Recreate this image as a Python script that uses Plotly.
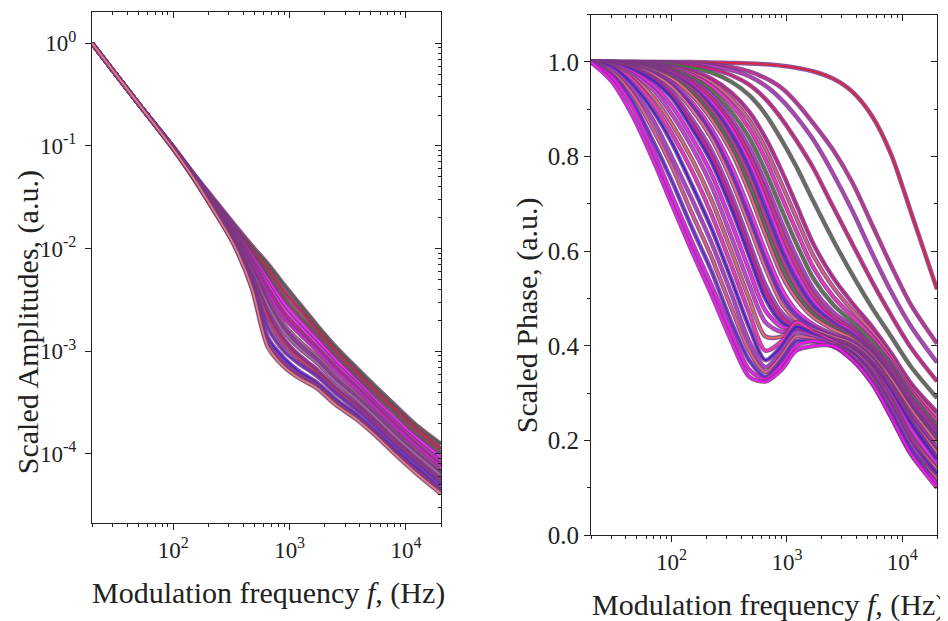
import plotly.graph_objects as go
import math

# ---- data ----
amp_freq = [20, 50, 100, 150, 220, 330, 470, 650, 900, 1200, 1700, 2500, 3700, 5500, 8000, 12000, 20000]

amp_0 = [1.0, 0.26, 0.093, 0.048, 0.024, 0.011, 0.0042, 0.0011, 7.0e-4, 5.5e-4, 4.4e-4, 3.0e-4, 2.2e-4, 1.5e-4, 1.0e-4, 6.6e-5, 4.1e-5]
amp_0b = [1.0, 0.26, 0.0935, 0.048, 0.0243, 0.0113, 0.0044, 0.0012, 7.6e-4, 5.9e-4, 4.7e-4, 3.2e-4, 2.3e-4, 1.58e-4, 1.05e-4, 7.0e-5, 4.4e-5]
amp_1 = [1.0, 0.26, 0.094, 0.0485, 0.0246, 0.0117, 0.0047, 0.00135, 8.5e-4, 6.4e-4, 5.0e-4, 3.4e-4, 2.45e-4, 1.66e-4, 1.11e-4, 7.5e-5, 4.6e-5]
amp_2 = [1.0, 0.26, 0.094, 0.049, 0.0252, 0.0122, 0.0052, 0.0017, 1.0e-3, 7.6e-4, 5.8e-4, 3.9e-4, 2.75e-4, 1.85e-4, 1.23e-4, 8.3e-5, 5.1e-5]
amp_2b = [1.0, 0.26, 0.0945, 0.0492, 0.0255, 0.0126, 0.0055, 0.0021, 1.15e-3, 8.5e-4, 6.2e-4, 4.15e-4, 2.9e-4, 1.95e-4, 1.3e-4, 8.7e-5, 5.3e-5]
amp_3 = [1.0, 0.26, 0.095, 0.0495, 0.0258, 0.0128, 0.0057, 0.0024, 1.3e-3, 9.2e-4, 6.7e-4, 4.4e-4, 3.1e-4, 2.05e-4, 1.36e-4, 9.1e-5, 5.6e-5]
amp_4 = [1.0, 0.26, 0.095, 0.050, 0.0264, 0.0133, 0.0062, 0.0028, 1.53e-3, 1.08e-3, 7.8e-4, 5.0e-4, 3.45e-4, 2.27e-4, 1.51e-4, 1.0e-4, 6.2e-5]
amp_4b = [1.0, 0.26, 0.0955, 0.0502, 0.0267, 0.0135, 0.0064, 0.003, 1.66e-3, 1.17e-3, 8.4e-4, 5.35e-4, 3.65e-4, 2.4e-4, 1.6e-4, 1.05e-4, 6.5e-5]
amp_5 = [1.0, 0.26, 0.096, 0.0505, 0.027, 0.0138, 0.0067, 0.0032, 1.8e-3, 1.27e-3, 9.0e-4, 5.7e-4, 3.9e-4, 2.5e-4, 1.68e-4, 1.11e-4, 6.8e-5]
amp_6 = [1.0, 0.26, 0.096, 0.051, 0.0276, 0.0143, 0.0073, 0.0037, 2.1e-3, 1.5e-3, 1.03e-3, 6.5e-4, 4.35e-4, 2.8e-4, 1.86e-4, 1.22e-4, 7.5e-5]
amp_6b = [1.0, 0.26, 0.0965, 0.0512, 0.0279, 0.0146, 0.0077, 0.0041, 2.3e-3, 1.63e-3, 1.1e-3, 6.95e-4, 4.6e-4, 2.95e-4, 1.96e-4, 1.28e-4, 7.9e-5]
amp_7 = [1.0, 0.26, 0.097, 0.0515, 0.0284, 0.0151, 0.0081, 0.0045, 2.55e-3, 1.77e-3, 1.19e-3, 7.4e-4, 4.9e-4, 3.1e-4, 2.06e-4, 1.35e-4, 8.4e-5]
amp_7b = [1.0, 0.26, 0.097, 0.0518, 0.0289, 0.0156, 0.0087, 0.0050, 2.9e-3, 2.0e-3, 1.32e-3, 8.2e-4, 5.3e-4, 3.35e-4, 2.22e-4, 1.47e-4, 9.2e-5]
amp_8 = [1.0, 0.26, 0.097, 0.052, 0.0294, 0.0162, 0.0093, 0.0056, 3.3e-3, 2.25e-3, 1.47e-3, 9.0e-4, 5.8e-4, 3.7e-4, 2.5e-4, 1.62e-4, 1.02e-4]
amp_8b = [1.0, 0.26, 0.0975, 0.0528, 0.0301, 0.0168, 0.0100, 0.0063, 3.8e-3, 2.6e-3, 1.65e-3, 1.0e-3, 6.4e-4, 4.1e-4, 2.75e-4, 1.8e-4, 1.12e-4]
amp_9 = [1.0, 0.26, 0.098, 0.0535, 0.031, 0.0175, 0.0108, 0.0071, 4.4e-3, 2.95e-3, 1.82e-3, 1.1e-3, 7.0e-4, 4.5e-4, 3.0e-4, 1.95e-4, 1.25e-4]

phase_freq = [20, 30, 45, 70, 100, 150, 220, 330, 470, 650, 900, 1200, 1700, 2500, 3700, 5500, 8000, 12000, 20000]

ph_s5 = [1.00, 1.00, 1.00, 1.00, 1.00, 1.00, 0.999, 0.998, 0.997, 0.995, 0.992, 0.988, 0.980, 0.965, 0.937, 0.885, 0.805, 0.68, 0.52]
ph_s4 = [1.00, 1.00, 1.00, 1.00, 0.999, 0.997, 0.995, 0.989, 0.98, 0.966, 0.945, 0.915, 0.87, 0.815, 0.745, 0.655, 0.57, 0.485, 0.405]
ph_s3 = [1.00, 1.00, 1.00, 0.999, 0.998, 0.996, 0.992, 0.983, 0.97, 0.95, 0.92, 0.885, 0.835, 0.765, 0.685, 0.595, 0.515, 0.44, 0.365]
ph_s2 = [1.00, 1.00, 1.00, 0.999, 0.997, 0.993, 0.986, 0.972, 0.952, 0.922, 0.88, 0.835, 0.775, 0.695, 0.615, 0.535, 0.465, 0.395, 0.325]
ph_s1 = [1.00, 1.00, 0.999, 0.998, 0.995, 0.988, 0.978, 0.958, 0.93, 0.89, 0.835, 0.78, 0.705, 0.625, 0.55, 0.48, 0.42, 0.355, 0.29]
ph_b10 = [1.00, 1.00, 0.999, 0.996, 0.991, 0.981, 0.965, 0.935, 0.895, 0.84, 0.77, 0.70, 0.615, 0.545, 0.49, 0.44, 0.385, 0.32, 0.26]
ph_b9b = [1.00, 1.00, 0.999, 0.995, 0.989, 0.977, 0.958, 0.922, 0.878, 0.818, 0.742, 0.672, 0.59, 0.525, 0.475, 0.43, 0.378, 0.312, 0.25]
ph_b9 = [1.00, 1.00, 0.998, 0.994, 0.987, 0.973, 0.95, 0.91, 0.86, 0.795, 0.715, 0.645, 0.565, 0.505, 0.462, 0.42, 0.37, 0.305, 0.24]
ph_b8b = [1.00, 1.00, 0.998, 0.993, 0.985, 0.968, 0.941, 0.895, 0.84, 0.77, 0.688, 0.618, 0.542, 0.488, 0.45, 0.41, 0.362, 0.298, 0.232]
ph_b8 = [1.00, 1.00, 0.997, 0.991, 0.982, 0.962, 0.932, 0.88, 0.82, 0.745, 0.66, 0.59, 0.52, 0.472, 0.44, 0.40, 0.355, 0.29, 0.225]
ph_b7b = [1.00, 1.00, 0.997, 0.99, 0.98, 0.958, 0.925, 0.87, 0.805, 0.728, 0.64, 0.572, 0.508, 0.462, 0.435, 0.395, 0.35, 0.285, 0.22]
ph_b7 = [1.00, 0.999, 0.996, 0.989, 0.977, 0.953, 0.917, 0.86, 0.79, 0.71, 0.62, 0.555, 0.495, 0.455, 0.43, 0.39, 0.345, 0.28, 0.215]
ph_b6b = [1.00, 0.999, 0.996, 0.988, 0.974, 0.948, 0.908, 0.848, 0.775, 0.69, 0.602, 0.54, 0.485, 0.45, 0.425, 0.388, 0.34, 0.275, 0.21]
ph_b6 = [1.00, 0.999, 0.995, 0.986, 0.971, 0.943, 0.90, 0.835, 0.76, 0.67, 0.585, 0.525, 0.475, 0.445, 0.42, 0.385, 0.335, 0.27, 0.205]
ph_b5b = [1.00, 0.999, 0.995, 0.984, 0.968, 0.937, 0.89, 0.822, 0.742, 0.652, 0.568, 0.512, 0.468, 0.44, 0.418, 0.382, 0.332, 0.268, 0.20]
ph_b5 = [1.00, 0.999, 0.994, 0.982, 0.965, 0.93, 0.88, 0.81, 0.725, 0.635, 0.55, 0.50, 0.46, 0.435, 0.415, 0.38, 0.33, 0.265, 0.195]
ph_b4 = [1.00, 0.998, 0.992, 0.978, 0.957, 0.915, 0.86, 0.78, 0.69, 0.60, 0.52, 0.475, 0.445, 0.425, 0.41, 0.375, 0.32, 0.255, 0.185]
ph_b3b = [1.00, 0.998, 0.991, 0.976, 0.953, 0.908, 0.85, 0.765, 0.672, 0.582, 0.505, 0.465, 0.44, 0.422, 0.408, 0.372, 0.318, 0.25, 0.18]
ph_b3 = [1.00, 0.998, 0.99, 0.973, 0.948, 0.90, 0.84, 0.75, 0.655, 0.565, 0.49, 0.455, 0.435, 0.42, 0.405, 0.37, 0.315, 0.245, 0.175]
ph_b2 = [1.00, 0.997, 0.988, 0.967, 0.937, 0.88, 0.815, 0.72, 0.62, 0.53, 0.47, 0.445, 0.43, 0.415, 0.40, 0.365, 0.31, 0.24, 0.165]
ph_b1b = [1.00, 0.997, 0.987, 0.964, 0.931, 0.87, 0.803, 0.705, 0.605, 0.515, 0.46, 0.44, 0.428, 0.412, 0.398, 0.362, 0.308, 0.238, 0.162]
ph_b1 = [1.00, 0.996, 0.985, 0.96, 0.925, 0.86, 0.79, 0.69, 0.59, 0.50, 0.45, 0.435, 0.425, 0.41, 0.395, 0.36, 0.305, 0.235, 0.16]
ph_a10 = [1.00, 0.995, 0.98, 0.95, 0.908, 0.84, 0.765, 0.66, 0.56, 0.475, 0.44, 0.437, 0.428, 0.41, 0.392, 0.355, 0.297, 0.222, 0.15]
ph_a9 = [1.00, 0.994, 0.975, 0.94, 0.89, 0.82, 0.74, 0.63, 0.53, 0.45, 0.43, 0.44, 0.43, 0.41, 0.39, 0.35, 0.29, 0.21, 0.14]
ph_a8 = [1.00, 0.992, 0.97, 0.925, 0.87, 0.795, 0.71, 0.60, 0.50, 0.42, 0.42, 0.445, 0.43, 0.41, 0.39, 0.35, 0.285, 0.205, 0.14]
ph_a7 = [1.00, 0.99, 0.965, 0.91, 0.85, 0.77, 0.68, 0.57, 0.47, 0.39, 0.41, 0.45, 0.43, 0.41, 0.385, 0.345, 0.28, 0.20, 0.13]
ph_a6 = [1.00, 0.99, 0.955, 0.895, 0.83, 0.74, 0.65, 0.54, 0.44, 0.37, 0.40, 0.44, 0.425, 0.405, 0.385, 0.34, 0.275, 0.195, 0.13]
ph_a5 = [1.00, 0.985, 0.945, 0.875, 0.80, 0.71, 0.62, 0.51, 0.41, 0.355, 0.39, 0.43, 0.42, 0.405, 0.38, 0.335, 0.27, 0.19, 0.12]
ph_a4 = [1.00, 0.98, 0.935, 0.855, 0.78, 0.68, 0.59, 0.48, 0.39, 0.345, 0.38, 0.42, 0.415, 0.40, 0.38, 0.33, 0.26, 0.18, 0.12]
ph_a3 = [1.00, 0.975, 0.92, 0.83, 0.75, 0.65, 0.56, 0.45, 0.37, 0.335, 0.37, 0.41, 0.41, 0.40, 0.375, 0.325, 0.26, 0.18, 0.11]
ph_a2 = [1.00, 0.97, 0.91, 0.81, 0.72, 0.62, 0.53, 0.43, 0.35, 0.33, 0.36, 0.40, 0.41, 0.40, 0.37, 0.32, 0.25, 0.17, 0.11]
ph_a1 = [1.00, 0.96, 0.89, 0.79, 0.70, 0.60, 0.51, 0.41, 0.335, 0.325, 0.35, 0.39, 0.40, 0.40, 0.37, 0.32, 0.25, 0.17, 0.10]

amp_ticks = [1e-4, 1e-3, 1e-2, 1e-1, 1]
amp_tick_text = ['10<sup>-4</sup>', '10<sup>-3</sup>', '10<sup>-2</sup>', '10<sup>-1</sup>', '10<sup>0</sup>']
freq_ticks = [100, 1000, 10000]
freq_tick_text = ['10<sup>2</sup>', '10<sup>3</sup>', '10<sup>4</sup>']

amp_curves = [amp_9, amp_8b, amp_8, amp_7b, amp_7, amp_6b, amp_6, amp_5, amp_4b, amp_4,
              amp_3, amp_2b, amp_2, amp_1, amp_0b, amp_0]
amp_cores = ['#4a6a2a', '#c03030', '#6a5a3a', '#ff20ff', '#ff30ff', '#c03080', '#d020d0', '#b0608a',
             '#8a4a9a', '#9a6a9a', '#9a2a7a', '#c04060', '#6a30c0', '#4a20e0', '#8a3a8a', '#e08070']

phase_curves = [ph_s5, ph_s4, ph_s3, ph_s2, ph_s1, ph_b10, ph_b9b, ph_b9, ph_b8b, ph_b8,
                ph_b7b, ph_b7, ph_b6b, ph_b6, ph_b5b, ph_b5, ph_b4, ph_b3b, ph_b3, ph_b2,
                ph_b1b, ph_b1, ph_a10, ph_a9, ph_a8, ph_a7, ph_a6, ph_a5, ph_a4, ph_a3,
                ph_a2, ph_a1]
phase_cores = ['#e02040', '#c03090', '#b040c0', '#d02070', '#3a8a30', '#c02080', '#e06080', '#ff30c0',
               '#3a8a30', '#b040d0', '#e03070', '#ff20ff', '#4030e0', '#c04080', '#3a8a30', '#e07070',
               '#ff30ff', '#6030e0', '#e07080', '#b040d0', '#e02080', '#4020e0', '#ff20ff', '#d040e0',
               '#e07060', '#ff30c0', '#4020e0', '#b040d0', '#e06080', '#5030e0', '#ff10ff', '#ff10ff']

OUTLINE = 'rgba(125,55,130,0.85)'
FONT = 'Liberation Serif'
# page body keeps its 8px margin; the photographed page comes out ~2% shorter vertically
OFF = 8
VS = 0.978
W, H = 948 - OFF, 640


def fx(p):
    return (p - OFF) / W


def fy(p):
    return 1 - (p / VS - OFF) / H


fig = go.Figure()

for ys, core in zip(amp_curves, amp_cores):
    fig.add_trace(go.Scatter(x=amp_freq, y=ys, xaxis='x', yaxis='y', mode='lines',
                             line=dict(color=OUTLINE, width=4.5, shape='spline', smoothing=0.8),
                             hoverinfo='skip', showlegend=False))
    fig.add_trace(go.Scatter(x=amp_freq, y=ys, xaxis='x', yaxis='y', mode='lines',
                             line=dict(color=core, width=1.8, shape='spline', smoothing=0.8),
                             hoverinfo='skip', showlegend=False))

for ys, core in zip(phase_curves, phase_cores):
    fig.add_trace(go.Scatter(x=phase_freq, y=ys, xaxis='x2', yaxis='y2', mode='lines',
                             line=dict(color=OUTLINE, width=4.5, shape='spline', smoothing=0.8),
                             hoverinfo='skip', showlegend=False))
    fig.add_trace(go.Scatter(x=phase_freq, y=ys, xaxis='x2', yaxis='y2', mode='lines',
                             line=dict(color=core, width=1.8, shape='spline', smoothing=0.8),
                             hoverinfo='skip', showlegend=False))

# invisible copies so the mirrored (top/right) axes get drawn
fig.add_trace(go.Scatter(x=amp_freq, y=amp_0, xaxis='x3', yaxis='y3', mode='lines',
                         line=dict(color='rgba(0,0,0,0)'), hoverinfo='skip', showlegend=False))
fig.add_trace(go.Scatter(x=phase_freq, y=ph_a1, xaxis='x4', yaxis='y4', mode='lines',
                         line=dict(color='rgba(0,0,0,0)'), hoverinfo='skip', showlegend=False))

xr = [math.log10(20), math.log10(20000)]
yr_amp = [-4.675, 0.303]
axis_common = dict(showline=True, linecolor='#222', linewidth=1.2, showgrid=False, zeroline=False,
                   tickcolor='#222')
tf_left = dict(family=FONT, size=23, color='#222')
tf_right = dict(family=FONT, size=25, color='#222')

dom_x1 = [fx(92), fx(441)]
dom_y1 = [fy(523), fy(12)]
dom_x2 = [fx(591), fx(937)]
dom_y2 = [fy(535), fy(14.5)]

log_x = dict(type='log', range=xr, tickmode='array', tickvals=freq_ticks, ticktext=freq_tick_text)
log_y = dict(type='log', range=yr_amp, tickmode='array', tickvals=amp_ticks, ticktext=amp_tick_text)
minor_out_log = dict(ticks='outside', ticklen=3, dtick='D1', tickcolor='#222')
minor_in_log = dict(ticks='inside', ticklen=3, dtick='D1', tickcolor='#222')

fig.update_layout(
    width=W, height=H, margin=dict(l=0, r=0, t=0, b=0),
    paper_bgcolor='white', plot_bgcolor='white',
    xaxis=dict(**axis_common, **log_x, domain=dom_x1, anchor='y', ticks='outside', ticklen=6,
               tickfont=tf_left, minor=minor_out_log),
    yaxis=dict(**axis_common, **log_y, domain=dom_y1, anchor='x', ticks='outside', ticklen=6,
               tickfont=tf_left, ticklabelstandoff=4),
    xaxis3=dict(**axis_common, **log_x, overlaying='x', side='top', anchor='y', ticks='inside',
                ticklen=6, showticklabels=False, minor=minor_in_log),
    yaxis3=dict(**axis_common, **log_y, overlaying='y', side='right', anchor='x', ticks='inside',
                ticklen=6, showticklabels=False, minor=minor_in_log),
    xaxis2=dict(**axis_common, **log_x, domain=dom_x2, anchor='y2', ticks='outside', ticklen=6,
                tickfont=tf_left, minor=minor_out_log),
    yaxis2=dict(**axis_common, range=[0, 1.1], dtick=0.2, tickformat='.1f', domain=dom_y2,
                anchor='x2', ticks='outside', ticklen=6, tickfont=tf_right,
                minor=dict(ticks='outside', ticklen=3, dtick=0.1, tickcolor='#222')),
    xaxis4=dict(**axis_common, **log_x, overlaying='x2', side='top', anchor='y2', ticks='inside',
                ticklen=6, showticklabels=False, minor=minor_in_log),
    yaxis4=dict(**axis_common, range=[0, 1.1], dtick=0.2, overlaying='y2', side='right',
                anchor='x2', ticks='inside', ticklen=6, showticklabels=False,
                minor=dict(ticks='inside', ticklen=3, dtick=0.1, tickcolor='#222')),
)

title_font = dict(family=FONT, size=30, color='#222')
ann = dict(xref='paper', yref='paper', showarrow=False, font=title_font, xanchor='center', yanchor='middle')
fig.add_annotation(text='Scaled Amplitudes, (a.u.)', x=fx(28), y=fy(322), textangle=-90, **ann)
fig.add_annotation(text='Scaled Phase, (a.u.)', x=fx(527), y=fy(315), textangle=-90, **ann)
fig.add_annotation(text='Modulation frequency <i>f</i>, (Hz)', x=fx(268), y=fy(593), **ann)
fig.add_annotation(text='Modulation frequency <i>f</i>, (Hz)', x=fx(768), y=fy(605), **ann)

fig.write_html("out.html")
